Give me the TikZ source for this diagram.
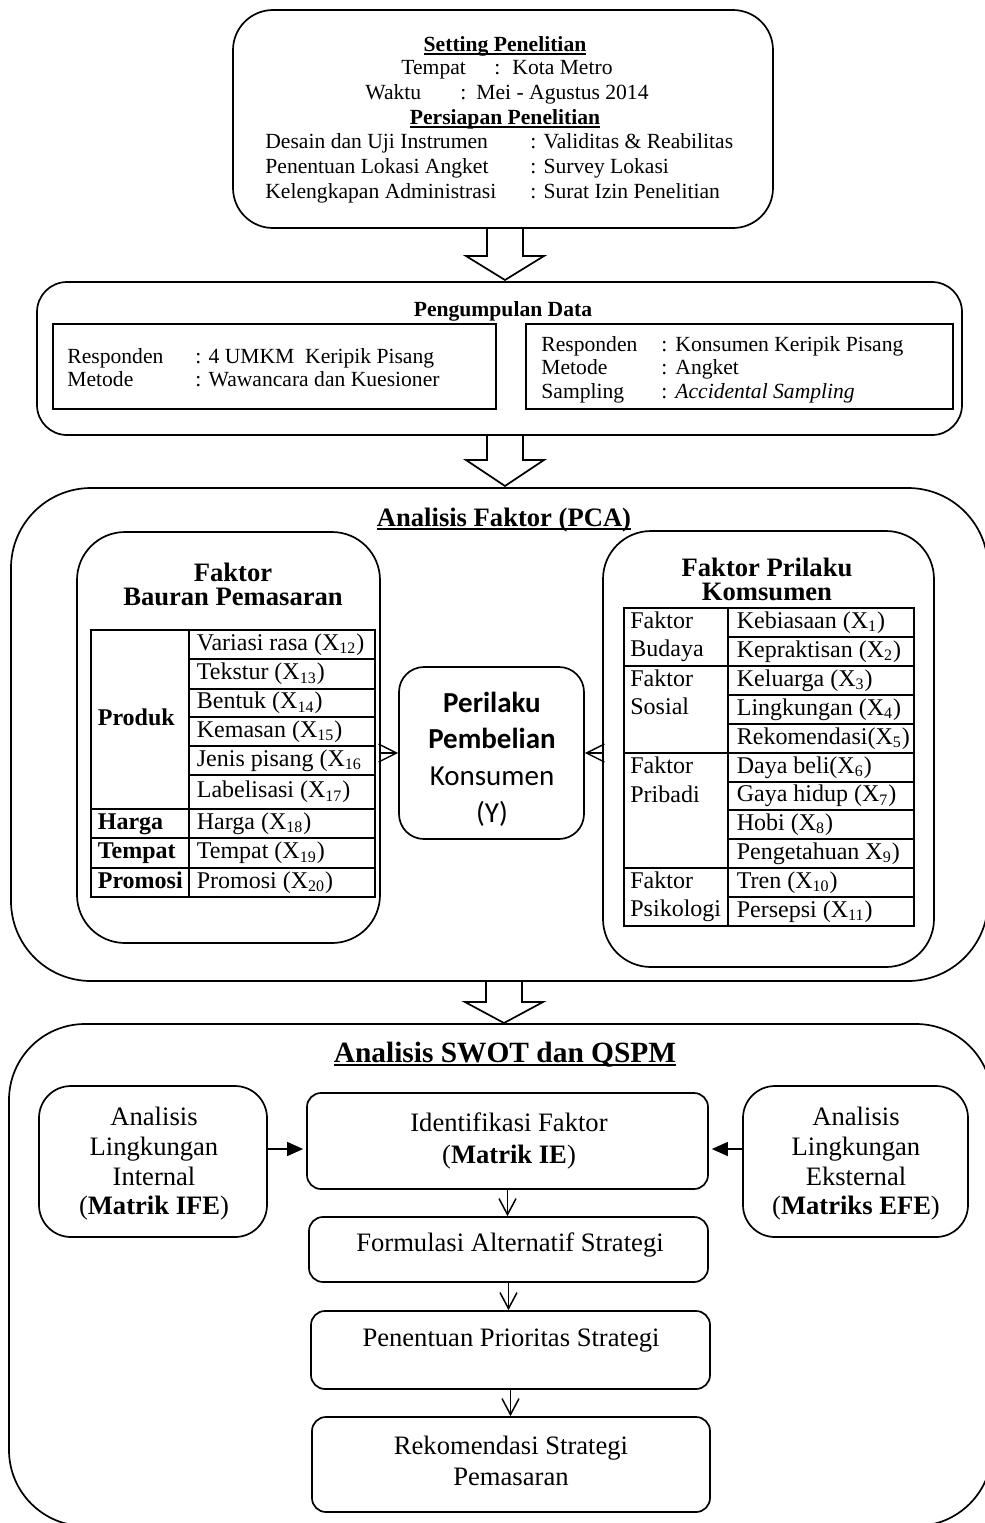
\documentclass[tikz,border=0pt]{standalone}
\usepackage{fontspec}
\setmainfont{Liberation Serif}
\newfontfamily\calibriface{Carlito}
\usetikzlibrary{arrows.meta,calc}
\newcommand\myul[1]{\setbox0\hbox{#1}\rlap{\rule[-1.9pt]{\wd0}{0.7pt}}\box0}
\newcommand\myftop{\fontsize{10.8}{13}\selectfont}
\newcommand\myftab{\fontsize{12}{14}\selectfont}
\newcommand\myfhead{\fontsize{13.3}{12}\selectfont\bfseries}
\newcommand\myfswot{\fontsize{13.3}{14.85}\selectfont}
\newcommand\myfswotB{\fontsize{13.3}{16}\selectfont}
\newcommand\myfswotC{\fontsize{13.3}{15.5}\selectfont}
\newcommand\myfbig{\fontsize{14.7}{16}\selectfont\bfseries}
\newcommand\tcell[6]{\node[cell,minimum width=#3,minimum height=#4] (#1) at #2 {\makebox[#3][l]{\hspace{#5}#6}};}
\newcommand\bigarrow[4]{\draw[blk] (#1-18,#2) -- (#1-18,#3) -- (#1-39,#3) -- (#1,#4) -- (#1+39,#3) -- (#1+18,#3) -- (#1+18,#2);}
\begin{document}
\begin{tikzpicture}[x=0.5pt,y=-0.5pt,
  box/.style={draw, line width=0.85pt, inner sep=0pt},
  rbox/.style={box, rounded corners=#1},
  txt/.style={inner sep=0pt, text height=0.8em, text depth=0.2em},
  mtxt/.style={inner sep=0pt, align=center},
  cell/.style={draw, line width=0.85pt, inner sep=0pt, anchor=north west, text height=0.8em, text depth=0.2em, font=\myftab},
  blk/.style={draw, line width=0.85pt, line join=miter},
  barb/.style={line width=0.7pt, -{Straight Barb[length=9pt,width=9pt]}},
  vdown/.style={line width=0.75pt, -{Straight Barb[length=8pt,width=8.5pt]}},
  tri/.style={line width=0.7pt, -{Triangle[length=8pt,width=7pt]}, shorten >=1.5pt}]
\useasboundingbox (0,0) rectangle (985,1523);

% ---------- Setting box ----------
\node[rbox=20pt, minimum width=270pt, minimum height=109pt] (setting) at (503,119) {};
\node[txt,font=\myftop] (st1) at (505,45) {\myul{\textbf{Setting Penelitian}}};
\node[txt,anchor=west,font=\myftop] (st2) at (401,68) {\makebox[46.5pt][l]{Tempat}:\hspace{6pt}Kota Metro};
\node[txt,anchor=west,font=\myftop] (st3) at (365,93) {\makebox[47.5pt][l]{Waktu}:\hspace{5pt}Mei - Agustus 2014};
\node[txt,font=\myftop] (st4) at (505,118) {\myul{\textbf{Persiapan Penelitian}}};
\node[txt,anchor=west,font=\myftop] (st5) at (265,142) {\makebox[132.5pt][l]{Desain dan Uji Instrumen}: Validitas \& Reabilitas};
\node[txt,anchor=west,font=\myftop] (st6) at (265,167) {\makebox[132.5pt][l]{Penentuan Lokasi Angket}: Survey Lokasi};
\node[txt,anchor=west,font=\myftop] (st7) at (265,192) {\makebox[132.5pt][l]{Kelengkapan Administrasi}: Surat Izin Penelitian};

\bigarrow{505}{228}{256}{280}

% ---------- Pengumpulan Data ----------
\node[rbox=15pt, minimum width=462.5pt, minimum height=76.5pt] (data) at (499.5,358.5) {};
\node[txt,font=\myftop\bfseries] (pd) at (503,310) {Pengumpulan Data};
\node[box, minimum width=221.5pt, minimum height=42.5pt] (dl) at (274.5,366.5) {};
\node[box, minimum width=213.5pt, minimum height=42.5pt] (dr) at (739.5,366.5) {};
\node[txt,anchor=west,font=\myftop] (dl1) at (67,357) {\makebox[64pt][l]{Responden}: 4 UMKM\ \ Keripik Pisang};
\node[txt,anchor=west,font=\myftop] (dl2) at (67,380) {\makebox[64pt][l]{Metode}: Wawancara dan Kuesioner};
\node[txt,anchor=west,font=\myftop] (dr1) at (541,345) {\makebox[60pt][l]{Responden}:\hspace{4pt}Konsumen Keripik Pisang};
\node[txt,anchor=west,font=\myftop] (dr2) at (541,368) {\makebox[60pt][l]{Metode}:\hspace{4pt}Angket};
\node[txt,anchor=west,font=\myftop] (dr3) at (541,392) {\makebox[60pt][l]{Sampling}:\hspace{4pt}\textit{Accidental Sampling}};

\bigarrow{505}{435}{460}{486}

% ---------- Analisis Faktor ----------
\node[rbox=40pt, minimum width=488.5pt, minimum height=246.5pt] (pca) at (499.5,734.5) {};
\node[txt,font=\myfhead] (pcat) at (504,520) {\myul{Analisis Faktor (PCA)}};

\node[rbox=24pt, minimum width=151.5pt, minimum height=205.5pt] (baur) at (228.5,737.5) {};
\node[mtxt,font=\myfhead] (baurT) at (233,584) {Faktor\\Bauran Pemasaran};
\tcell{lp}{(90,629)}{49pt}{89.5pt}{3.5pt}{\textbf{Produk}}
\tcell{lh}{(90,808)}{49pt}{14.5pt}{3.5pt}{\textbf{Harga}}
\tcell{lt}{(90,837)}{49pt}{15pt}{3.5pt}{\textbf{Tempat}}
\tcell{lpr}{(90,867)}{49pt}{14.5pt}{3.5pt}{\textbf{Promosi}}
\tcell{l1}{(188,629)}{93pt}{14.5pt}{4pt}{Variasi rasa (X\textsubscript{12})}
\tcell{l2}{(188,658)}{93pt}{15pt}{4pt}{Tekstur (X\textsubscript{13})}
\tcell{l3}{(188,688)}{93pt}{14pt}{4pt}{Bentuk (X\textsubscript{14})}
\tcell{l4}{(188,716)}{93pt}{14.5pt}{4pt}{Kemasan (X\textsubscript{15})}
\tcell{l5}{(188,745)}{93pt}{14.5pt}{4pt}{Jenis pisang (X\textsubscript{16}}
\tcell{l6}{(188,774)}{93pt}{17pt}{4pt}{Labelisasi (X\textsubscript{17})}
\tcell{l7}{(188,808)}{93pt}{14.5pt}{4pt}{Harga (X\textsubscript{18})}
\tcell{l8}{(188,837)}{93pt}{15pt}{4pt}{Tempat (X\textsubscript{19})}
\tcell{l9}{(188,867)}{93pt}{14.5pt}{4pt}{Promosi (X\textsubscript{20})}

\node[rbox=12.5pt, minimum width=92.5pt, minimum height=86pt] (per) at (491.5,753) {};
\node[mtxt,font=\calibriface\fontsize{14.5}{18.3}\selectfont] (perT) at (492,759) {\textbf{Perilaku}\\\textbf{Pembelian}\\Konsumen\\(Y)};

\node[rbox=24pt, minimum width=165.5pt, minimum height=218pt] (pril) at (768.5,749) {};
\node[mtxt,font=\fontsize{13.3}{12}\selectfont\bfseries] (prilT) at (767,579) {Faktor Prilaku\\Komsumen};
\tcell{g1}{(623,607)}{52pt}{29pt}{0pt}{}
\tcell{g2}{(623,665)}{52pt}{43.5pt}{0pt}{}
\tcell{g3}{(623,752)}{52pt}{57.5pt}{0pt}{}
\tcell{g4}{(623,867)}{52pt}{29pt}{0pt}{}
\node[txt,anchor=west,font=\myftab] (g1a) at (630,622) {Faktor};
\node[txt,anchor=west,font=\myftab] (g1b) at (630,650) {Budaya};
\node[txt,anchor=west,font=\myftab] (g2a) at (630,680) {Faktor};
\node[txt,anchor=west,font=\myftab] (g2b) at (630,708) {Sosial};
\node[txt,anchor=west,font=\myftab] (g3a) at (630,767) {Faktor};
\node[txt,anchor=west,font=\myftab] (g3b) at (630,796) {Pribadi};
\node[txt,anchor=west,font=\myftab] (g4a) at (630,882) {Faktor};
\node[txt,anchor=west,font=\myftab] (g4b) at (630,910) {Psikologi};
\tcell{r1}{(727,607)}{93pt}{14.5pt}{4.5pt}{Kebiasaan (X\textsubscript{1})}
\tcell{r2}{(727,636)}{93pt}{14.5pt}{4.5pt}{Kepraktisan (X\textsubscript{2})}
\tcell{r3}{(727,665)}{93pt}{14.5pt}{4.5pt}{Keluarga (X\textsubscript{3})}
\tcell{r4}{(727,694)}{93pt}{14.5pt}{4.5pt}{Lingkungan (X\textsubscript{4})}
\tcell{r5}{(727,723)}{93pt}{14.5pt}{4.5pt}{Rekomendasi(X\textsubscript{5})}
\tcell{r6}{(727,752)}{93pt}{14.5pt}{4.5pt}{Daya beli(X\textsubscript{6})}
\tcell{r7}{(727,781)}{93pt}{14pt}{4.5pt}{Gaya hidup (X\textsubscript{7})}
\tcell{r8}{(727,809)}{93pt}{14.5pt}{4.5pt}{Hobi (X\textsubscript{8})}
\tcell{r9}{(727,838)}{93pt}{14.5pt}{4.5pt}{Pengetahuan X\textsubscript{9})}
\tcell{r10}{(727,867)}{93pt}{14.5pt}{4.5pt}{Tren (X\textsubscript{10})}
\tcell{r11}{(727,896)}{93pt}{14.5pt}{4.5pt}{Persepsi (X\textsubscript{11})}

\draw[barb] (per.west -| baur.east) -- (per.west);
\draw[barb] (per.east -| pril.west) -- (per.east);

\bigarrow{504}{981}{1002}{1023}

% ---------- SWOT ----------
\node[rbox=38pt, minimum width=491.5pt, minimum height=251pt] (swot) at (500.5,1275) {};
\node[txt,font=\myfbig] (swt) at (505,1056) {\myul{Analisis SWOT dan QSPM}};
\node[rbox=16pt, minimum width=114pt, minimum height=75.5pt] (lint) at (153,1161.5) {};
\node[mtxt,font=\myfswot] (lintT) at (154,1164) {Analisis\\Lingkungan\\Internal\\(\textbf{Matrik IFE})};
\node[rbox=7pt, minimum width=200.5pt, minimum height=48pt] (ie) at (507.5,1141) {};
\node[mtxt,font=\myfswotB] (ieT) at (509,1140.5) {Identifikasi Faktor\\(\textbf{Matrik IE})};
\node[rbox=16pt, minimum width=112.5pt, minimum height=75.5pt] (lext) at (855.5,1161.5) {};
\node[mtxt,font=\myfswot] (lextT) at (856,1164) {Analisis\\Lingkungan\\Eksternal\\(\textbf{Matriks EFE})};
\node[rbox=7pt, minimum width=199.5pt, minimum height=32.5pt] (form) at (508.5,1249.5) {};
\node[txt,font=\myfswot] (formT) at (510,1245) {Formulasi Alternatif Strategi};
\node[rbox=7pt, minimum width=199.5pt, minimum height=39pt] (pen) at (510.5,1350) {};
\node[txt,font=\myfswot] (penT) at (511,1340) {Penentuan Prioritas Strategi};
\node[rbox=7pt, minimum width=199pt, minimum height=47.5pt] (rek) at (511,1464.5) {};
\node[mtxt,font=\myfswotC] (rekT) at (511,1461) {Rekomendasi Strategi\\Pemasaran};

\draw[tri] ([yshift=-4pt]ie.west -| lint.east) -- ([yshift=-4pt]ie.west);
\draw[tri] ([yshift=-4pt]ie.east -| lext.west) -- ([yshift=-4pt]ie.east);
\draw[vdown] (ie.south) -- (ie.south |- form.north);
\draw[vdown] (form.south) -- (form.south |- pen.north);
\draw[vdown] (pen.south) -- (pen.south |- rek.north);
\end{tikzpicture}
\end{document}
